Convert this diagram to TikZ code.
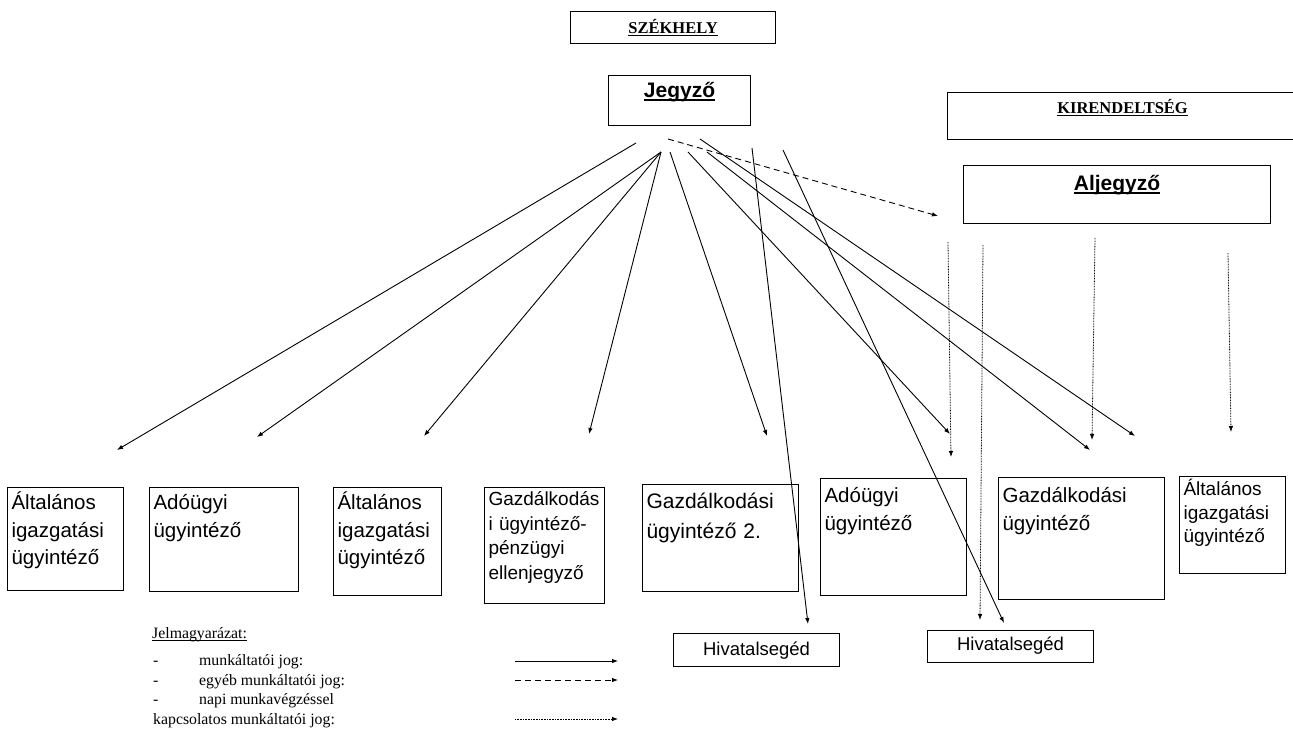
\documentclass[tikz,border=0pt]{standalone}
\usepackage{fontspec}
\setmainfont{Liberation Serif}
\newfontfamily\arialfont{Liberation Sans}
\usepackage{tikz}
\usetikzlibrary{arrows.meta}
\newcommand{\uln}[2][0.09em]{\setbox0\hbox{#2}\rlap{\rule[-0.17em]{\wd0}{#1}}\box0}

\begin{document}
\begin{tikzpicture}[x=1pt,y=-1pt,
  unit/.style={draw,line width=1.1pt,anchor=north west,align=left,inner xsep=4pt,inner ysep=0pt,font=\arialfont\fontsize{20.5}{27.5}\selectfont},
  head/.style={draw,line width=1.1pt,anchor=north west,align=center,inner sep=0pt,font=\bfseries\fontsize{16.5}{19}\selectfont},
  chief/.style={head,font=\arialfont\bfseries\fontsize{21}{25}\selectfont},
  helper/.style={draw,line width=1.1pt,anchor=north west,align=center,inner sep=0pt,font=\arialfont\fontsize{18.5}{22}\selectfont},
  legend/.style={anchor=base west,inner sep=0pt,font=\fontsize{15.8}{19}\selectfont},
  arrow/.style={-{Latex[length=6pt,width=4.5pt]},line width=0.9pt},
  other/.style={arrow,dash pattern=on 6pt off 4pt},
  daily/.style={arrow,line width=0.8pt,dash pattern=on 0.8pt off 0.8pt}
]
\useasboundingbox (0,0) rectangle (1293,744);

\node[head,text width=205pt,text height=22pt,text depth=10pt] (seat) at (570,11) {\uln[0.08em]{SZÉKHELY}};
\node[chief,text width=142pt,text height=22pt,text depth=28pt] (notary) at (608,75) {\uln{Jegyző}};
\node[head,text width=350pt,text height=21pt,text depth=26pt] (branch) at (947,92) {\uln[0.08em]{KIRENDELTSÉG}};
\node[chief,text width=307pt,text height=25pt,text depth=33pt] (deputy) at (963,165) {\uln{Aljegyző}};

\node[unit,text width=108pt,text height=22pt,text depth=81pt] (gen1) at (7,487) {Általános\\igazgatási\\ügyintéző};
\node[unit,text width=141pt,text height=22pt,text depth=82pt] (tax1) at (149,487) {Adóügyi\\ügyintéző};
\node[unit,text width=100pt,text height=22pt,text depth=86pt] (gen2) at (333,487) {Általános\\igazgatási\\ügyintéző};
\node[unit,text width=112pt,text height=18pt,text depth=98pt,font=\arialfont\fontsize{19}{24.5}\selectfont] (fin1) at (484,487) {Gazdálkodás\\i ügyintéző-\\pénzügyi\\ellenjegyző};
\node[unit,text width=148pt,text height=24pt,text depth=83pt,font=\arialfont\fontsize{21}{30}\selectfont] (fin2) at (642,484) {Gazdálkodási\\ügyintéző 2.};
\node[unit,text width=138pt,text height=24pt,text depth=93pt,font=\arialfont\fontsize{20.5}{28}\selectfont] (tax2) at (820,478) {Adóügyi\\ügyintéző};
\node[unit,text width=158pt,text height=25pt,text depth=97pt,font=\arialfont\fontsize{20.5}{28}\selectfont] (fin3) at (998,477) {Gazdálkodási\\ügyintéző};
\node[unit,text width=98pt,text height=19pt,text depth=78pt,font=\arialfont\fontsize{19}{23.5}\selectfont] (gen3) at (1179,476) {Általános\\igazgatási\\ügyintéző};

\node[helper,text width=166pt,text height=22pt,text depth=11pt] (aide1) at (673,633) {Hivatalsegéd};
\node[helper,text width=166pt,text height=20pt,text depth=12pt] (aide2) at (927,630) {Hivatalsegéd};

\coordinate (j0) at (636,143);
\coordinate (j1) at (661,152);
\coordinate (j2) at (670,152);
\coordinate (j3) at (688,152);
\coordinate (j4) at (700,139);
\coordinate (j5) at (707,152);
\coordinate (j6) at (752,148);
\coordinate (j7) at (783,150);
\coordinate (j8) at (668,139);
\coordinate (to-gen1) at (117,450);
\coordinate (to-tax1) at (257,437);
\coordinate (to-gen2) at (424,436);
\coordinate (to-fin1) at (589,434);
\coordinate (to-fin2) at (767,436);
\coordinate (to-tax2) at (950,434);
\coordinate (to-fin3) at (1090,450);
\coordinate (to-gen3) at (1135,436);
\coordinate (to-aide1) at (808,624);
\coordinate (to-aide2) at (1004,623);
\coordinate (to-deputy) at (938,216);

\draw[arrow] (j0) -- (to-gen1);
\draw[arrow] (j1) -- (to-tax1);
\draw[arrow] (j1) -- (to-gen2);
\draw[arrow] (j1) -- (to-fin1);
\draw[arrow] (j2) -- (to-fin2);
\draw[arrow] (j3) -- (to-tax2);
\draw[arrow] (j5) -- (to-fin3);
\draw[arrow] (j4) -- (to-gen3);
\draw[arrow] (j6) -- (to-aide1);
\draw[arrow] (j7) -- (to-aide2);
\draw[other] (j8) -- (to-deputy);

\coordinate (d1) at (948,242);
\coordinate (d2) at (983,245);
\coordinate (d3) at (1095,238);
\coordinate (d4) at (1228,253);
\draw[daily] (d1) -- (951,457) coordinate (e1);
\draw[daily] (d2) -- (980,620) coordinate (e2);
\draw[daily] (d3) -- (1092,440) coordinate (e3);
\draw[daily] (d4) -- (1231,432) coordinate (e4);

\node[legend] (key) at (152,638) {\uln[0.06em]{Jelmagyarázat:}};
\node[legend] (bul1) at (153,665) {-};
\node[legend] (key1) at (199,665) {munkáltatói jog:};
\node[legend] (bul2) at (153,685) {-};
\node[legend] (key2) at (199,685) {egyéb munkáltatói jog:};
\node[legend] (bul3) at (153,704) {-};
\node[legend] (key3) at (199,704) {napi munkavégzéssel};
\node[legend] (key4) at (153,724) {kapcsolatos munkáltatói jog:};
\coordinate (l1) at (515,661);
\coordinate (r1) at (618,661);
\coordinate (l2) at (515,680);
\coordinate (r2) at (618,680);
\coordinate (l3) at (515,719);
\coordinate (r3) at (618,719);
\draw[arrow] (l1) -- (r1);
\draw[other] (l2) -- (r2);
\draw[daily] (l3) -- (r3);
\end{tikzpicture}
\end{document}
